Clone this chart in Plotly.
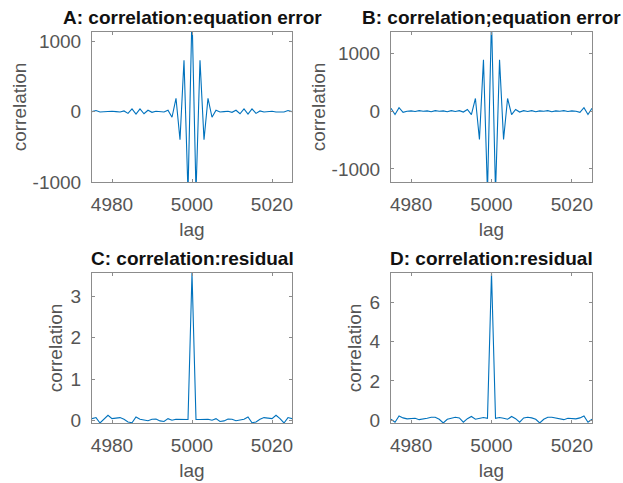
import plotly.graph_objects as go

# ---------------- data ----------------
lags = list(range(4975, 5026))

# autocorrelation values for |k| = 0..25 (k = lag - 5000), symmetric
a_half = [1400, -1150, 730, -400, 190, -80, 20, -5, 0, 5, -10, 20, -30, 40, -35,
          40, -25, 10, -5, 0, 5, -5, 0, -5, 15, 0]
b_half = [1600, -1400, 890, -490, 220, -60, 30, -15, 10, -5, 10, -10, 5, 0, 10,
          -10, 5, 0, 10, -5, 5, 0, -20, 60, -57, 50]
c_half = [3.57, 0.02, 0.02, 0.02, 0.025, 0.0, 0.04, -0.03, -0.015, 0.03, 0.025,
          -0.01, 0.0, 0.025, 0.08, -0.06, -0.04, 0.025, 0.065, 0.055, 0.04,
          0.12, 0.04, -0.065, 0.065, 0.04]
d_half = [7.49, 0.1, 0.14, 0.1, 0.05, 0.19, 0.08, -0.1, 0.12, 0.15, 0.12, 0.05,
          -0.14, 0.05, 0.15, 0.15, 0.1, 0.05, 0.03, 0.1, 0.07, 0.07, 0.12, 0.22,
          -0.1, 0.05]


def full(half):
    return [half[abs(l - 5000)] for l in lags]


series_a = full(a_half)
series_b = full(b_half)
series_c = full(c_half)
series_d = full(d_half)

titles = ["A: correlation:equation error", "B: correlation;equation error",
          "C: correlation:residual", "D: correlation:residual"]
x_ticks = [4980, 5000, 5020]
y_ticks = [[-1000, 0, 1000], [-1000, 0, 1000], [0, 1, 2, 3], [0, 2, 4, 6]]
y_ranges = [[-1000, 1132], [-1225, 1370], [-0.066, 3.57], [-0.14, 7.49]]
x_range = [4975, 5025]

# ---------------- figure ----------------
W, H = 623, 483
L, R, T, B = 92, 31, 32, 60
FONT = "Liberation Sans, Arial, sans-serif"
FS = 19
LINE = "#0072BD"
AXC = "#8c8c8c"
TXT = "#555555"

fig = go.Figure()
series = [series_a, series_b, series_c, series_d]

xdoms = [[0, 0.4], [0.598, 1.0], [0, 0.4], [0.598, 1.0]]
ydoms = [[0.6164, 1.0], [0.6164, 1.0], [0.0, 0.3836], [0.0, 0.3836]]
y_standoff = [0, 0, 2, 2]

layout = {}
for i in range(4):
    n = "" if i == 0 else str(i + 1)
    fig.add_trace(go.Scatter(x=lags, y=series[i], mode="lines",
                             line=dict(color=LINE, width=1.1),
                             xaxis="x" + n, yaxis="y" + n, showlegend=False,
                             cliponaxis=True))
    common = dict(showline=True, linecolor=AXC, linewidth=1, mirror="ticks",
                  ticks="inside", ticklen=3, tickcolor=AXC, showgrid=False,
                  zeroline=False, automargin=False,
                  tickfont=dict(family=FONT, size=FS, color=TXT))
    layout["xaxis" + n] = dict(domain=xdoms[i], range=x_range, tickvals=x_ticks,
                               ticktext=[str(v) for v in x_ticks],
                               anchor="y" + n, ticklabelstandoff=5,
                               title=dict(text="lag", standoff=8,
                                          font=dict(family=FONT, size=FS, color=TXT)),
                               **common)
    layout["yaxis" + n] = dict(domain=ydoms[i], range=y_ranges[i], tickvals=y_ticks[i],
                               ticktext=[str(v) for v in y_ticks[i]],
                               anchor="x" + n, ticklabelstandoff=6,
                               title=dict(text="correlation", standoff=y_standoff[i],
                                          font=dict(family=FONT, size=FS, color=TXT)),
                               **common)
    xc = (xdoms[i][0] + xdoms[i][1]) / 2
    fig.add_annotation(text="<b>" + titles[i] + "</b>", xref="paper", yref="paper",
                       x=xc, y=ydoms[i][1], yanchor="bottom", xanchor="center",
                       yshift=2, showarrow=False,
                       font=dict(family=FONT, size=FS, color="#111111"))

fig.update_layout(width=W, height=H, margin=dict(l=L, r=R, t=T, b=B, autoexpand=False),
                  paper_bgcolor="white", plot_bgcolor="white", **layout)

fig.write_html("out.html")
